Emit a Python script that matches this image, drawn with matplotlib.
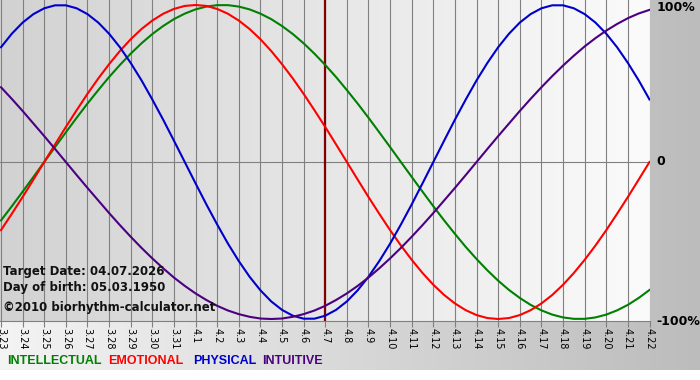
import numpy as np
import matplotlib
matplotlib.use("Agg")
import matplotlib.pyplot as plt
from matplotlib.colors import to_rgb

# ---- data ----
dates = ["3.23", "3.24", "3.25", "3.26", "3.27", "3.28", "3.29", "3.30", "3.31",
         "4.1", "4.2", "4.3", "4.4", "4.5", "4.6", "4.7", "4.8", "4.9", "4.10",
         "4.11", "4.12", "4.13", "4.14", "4.15", "4.16", "4.17", "4.18", "4.19",
         "4.20", "4.21", "4.22"]
target_date = "4.7"

# values read every half day (first value = 3.23, last = 4.22)
intellectual = [-0.372, -0.282, -0.189, -0.095, 0.0, 0.095, 0.189, 0.282, 0.372, 0.458,
                0.541, 0.618, 0.690, 0.756, 0.815, 0.866, 0.910, 0.945, 0.972, 0.990,
                0.999, 0.999, 0.990, 0.972, 0.945, 0.910, 0.866, 0.815, 0.756, 0.690,
                0.618, 0.541, 0.458, 0.372, 0.282, 0.189, 0.095, 0.0, -0.095, -0.189,
                -0.282, -0.372, -0.458, -0.541, -0.618, -0.690, -0.756, -0.815, -0.866,
                -0.910, -0.945, -0.972, -0.990, -0.999, -0.999, -0.990, -0.972, -0.945,
                -0.910, -0.866, -0.815]
emotional = [-0.434, -0.330, -0.223, -0.112, 0.0, 0.112, 0.223, 0.330, 0.434, 0.532,
             0.623, 0.707, 0.782, 0.847, 0.901, 0.944, 0.975, 0.994, 1.0, 0.994,
             0.975, 0.944, 0.901, 0.847, 0.782, 0.707, 0.623, 0.532, 0.434, 0.330,
             0.223, 0.112, 0.0, -0.112, -0.223, -0.330, -0.434, -0.532, -0.623, -0.707,
             -0.782, -0.847, -0.901, -0.944, -0.975, -0.994, -1.0, -0.994, -0.975,
             -0.944, -0.901, -0.847, -0.782, -0.707, -0.623, -0.532, -0.434, -0.330,
             -0.223, -0.112, 0.0]
physical = [0.731, 0.817, 0.888, 0.942, 0.979, 0.998, 0.998, 0.979, 0.942, 0.888,
            0.817, 0.731, 0.631, 0.520, 0.398, 0.270, 0.136, 0.0, -0.136, -0.270,
            -0.398, -0.520, -0.631, -0.731, -0.817, -0.888, -0.942, -0.979, -0.998,
            -0.998, -0.979, -0.942, -0.888, -0.817, -0.731, -0.631, -0.520, -0.398,
            -0.270, -0.136, 0.0, 0.136, 0.270, 0.398, 0.520, 0.631, 0.731, 0.817,
            0.888, 0.942, 0.979, 0.998, 0.998, 0.979, 0.942, 0.888, 0.817, 0.731,
            0.631, 0.520, 0.398]
intuitive = [0.476, 0.402, 0.325, 0.245, 0.165, 0.083, 0.0, -0.083, -0.165, -0.245,
             -0.325, -0.402, -0.476, -0.547, -0.614, -0.677, -0.736, -0.789, -0.837,
             -0.879, -0.916, -0.946, -0.969, -0.986, -0.997, -1.0, -0.997, -0.986,
             -0.969, -0.946, -0.916, -0.879, -0.837, -0.789, -0.736, -0.677, -0.614,
             -0.547, -0.476, -0.402, -0.325, -0.245, -0.165, -0.083, 0.0, 0.083, 0.165,
             0.245, 0.325, 0.402, 0.476, 0.547, 0.614, 0.677, 0.736, 0.789, 0.837,
             0.879, 0.916, 0.946, 0.969]

series_names = ["INTELLECTUAL", "EMOTIONAL", "PHYSICAL", "INTUITIVE"]
series_colors = ["#008000", "#ff0000", "#0000cc", "#4b0082"]
y_labels = ["100%", "0", "-100%"]
y_label_vals = [1.0, 0.0, -1.0]

info_lines = ["Target Date: 04.07.2026", "Day of birth: 05.03.1950",
              "\u00a92010 biorhythm-calculator.net"]

W, H = 700, 380
fig = plt.figure(figsize=(W / 100, H / 100), dpi=100)

# background: horizontal gradient, light -> gray, for the upper 370 px
bg = fig.add_axes([0, 0, 1, 1], zorder=0)
bg.set_axis_off()
img = np.ones((H, W, 3))
c0 = np.array(to_rgb("#f4f4f4"))
c1 = np.array(to_rgb("#bcbcbc"))
t = np.linspace(0, 1, W)[None, :, None]
grad = c0 * (1 - t) + c1 * t
img[:370, :, :] = grad
bg.imshow(img, aspect="auto", extent=[0, W, H, 0])
bg.set_xlim(0, W)
bg.set_ylim(H, 0)

# plot axes
plot_h = 321
ax = fig.add_axes([0, (H - plot_h) / H, 650 / W, plot_h / H], zorder=1)
n = len(dates)
x = np.arange(n)
xs = np.arange(len(physical)) * (n - 1) / (len(physical) - 1)
px_per_day = 649 / (n - 1)
xlo = -1 / px_per_day
xhi = n - 1 + 0.5 / px_per_day
ax.set_xlim(xlo, xhi)
amp = 157.0
ylo = -1 - 2 / amp
yhi = 1 + 5 / amp
ax.set_ylim(ylo, yhi)

# plot background gradient
pc0 = np.array(to_rgb("#d2d2d2"))
pc1 = np.array(to_rgb("#fbfbfb"))
tt = np.linspace(0, 1, 256)[None, :, None]
pgrad = pc0 * (1 - tt) + pc1 * tt
ax.imshow(pgrad, aspect="auto", extent=[xlo, xhi, ylo, yhi], zorder=0)

for s in ax.spines.values():
    s.set_visible(False)
ax.spines["bottom"].set_visible(True)
ax.spines["bottom"].set_color("#808080")
ax.spines["bottom"].set_linewidth(0.8)

for xi in x:
    ax.axvline(xi, color="#808080", lw=0.8, zorder=1)
ax.axhline(0, color="#808080", lw=0.8, zorder=1)

ax.axvline(dates.index(target_date), color="#800000", lw=1.6, zorder=3)

for vals, col in zip([intellectual, emotional, physical, intuitive], series_colors):
    ax.plot(xs, vals, color=col, lw=1.5, zorder=4, solid_joinstyle="round")

ax.set_xticks(x)
ax.set_xticklabels(dates, rotation=270, fontsize=7, family="DejaVu Sans")
ax.tick_params(axis="x", length=4, width=0.8, color="#808080", pad=1)
ax.set_yticks([])

for lab, v in zip(y_labels, y_label_vals):
    yy = v - 2.5 / amp if v != 0 else v
    ax.text(1.01, yy, lab, transform=ax.get_yaxis_transform(), ha="left",
            va="center", fontsize=9, fontweight="bold", family="DejaVu Sans",
            clip_on=False)

info_y = [271, 287, 308]
for txt, yy in zip(info_lines, info_y):
    fig.text(3 / W, 1 - yy / H, txt, ha="left", va="center", fontsize=8.5,
             fontweight="bold", family="DejaVu Sans", color="#111111", zorder=5)

leg_x = [7, 108, 193, 262]
for name, col, lx in zip(series_names, series_colors, leg_x):
    fig.text(lx / W, 1 - 361 / H, name, ha="left", va="center", fontsize=9,
             fontweight="bold", family="Liberation Sans", color=col, zorder=5)

fig.savefig("out.png", dpi=100)
